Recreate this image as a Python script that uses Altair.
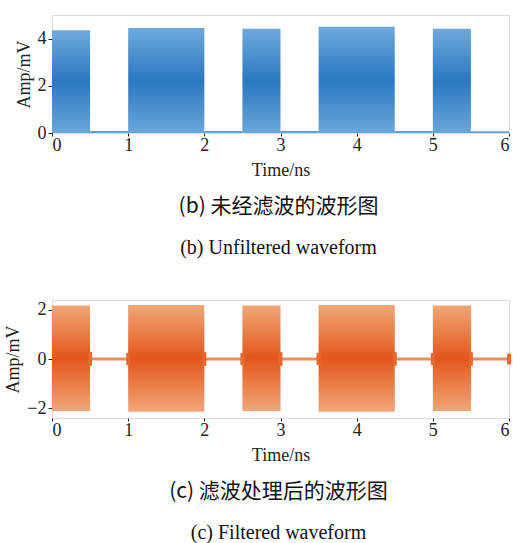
import altair as alt
import pandas as pd

# ---- data ----
burst_start = [0.0, 1.0, 2.5, 3.5, 5.0]
burst_end = [0.5, 2.0, 3.0, 4.5, 5.5]
raw_peak = [4.35, 4.45, 4.42, 4.5, 4.42]
raw_floor = [0.0, 0.0, 0.0, 0.0, 0.0]

idle_start = [0.5, 2.0, 3.0, 4.5, 5.5]
idle_end = [1.0, 2.5, 3.5, 5.0, 6.0]
raw_idle_peak = [0.08, 0.08, 0.08, 0.08, 0.07]

filt_peak = [2.18, 2.2, 2.18, 2.2, 2.18]
filt_trough = [-2.12, -2.15, -2.12, -2.15, -2.12]
filt_idle_amp = [0.06, 0.06, 0.06, 0.06, 0.06]

edge_time = [0.5, 1.0, 2.0, 2.5, 3.0, 3.5, 4.5, 5.0, 5.5, 6.0]
edge_ring = [0.28, 0.25, 0.28, 0.25, 0.28, 0.25, 0.28, 0.25, 0.28, 0.22]

x_ticks = [0, 1, 2, 3, 4, 5, 6]
raw_y_ticks = [0, 2, 4]
filt_y_ticks = [-2, 0, 2]

caption_b = ["(b) 未经滤波的波形图", "(b) Unfiltered waveform"]
caption_c = ["(c) 滤波处理后的波形图", "(c) Filtered waveform"]

SERIF = "Liberation Serif"
CJK = "Noto Sans CJK SC"
W, H = 457, 118
FS = 18

blue_grad = alt.LinearGradient(
    gradient="linear", x1=0, x2=0, y1=0, y2=1,
    stops=[alt.GradientStop(color="#6ea9dc", offset=0),
           alt.GradientStop(color="#2b78c1", offset=0.5),
           alt.GradientStop(color="#6aa6da", offset=1)])
orange_grad = alt.LinearGradient(
    gradient="linear", x1=0, x2=0, y1=0, y2=1,
    stops=[alt.GradientStop(color="#f2a677", offset=0),
           alt.GradientStop(color="#e2571c", offset=0.5),
           alt.GradientStop(color="#f2a677", offset=1)])


def x_enc(field):
    return alt.X(field, type="quantitative",
                 scale=alt.Scale(domain=[0, 6], nice=False),
                 axis=alt.Axis(values=x_ticks, title="Time/ns", format="d",
                               grid=False, domain=False, tickSize=3,
                               tickColor="#222", labelFont=SERIF, labelFontSize=FS,
                               labelColor="#222", titleFont=SERIF, titleFontSize=FS,
                               titleFontWeight="normal", titleColor="#222",
                               labelPadding=0, titlePadding=7))


def y_enc(field, domain, ticks):
    return alt.Y(field, type="quantitative",
                 scale=alt.Scale(domain=domain, nice=False),
                 axis=alt.Axis(values=ticks, title="Amp/mV", format="d",
                               grid=False, domain=False, tickSize=4,
                               tickColor="#222", labelFont=SERIF, labelFontSize=FS,
                               labelColor="#222", titleFont=SERIF, titleFontSize=FS,
                               titleFontWeight="normal", titleColor="#222",
                               labelPadding=2, titlePadding=4))


def captions(lines):
    cn = alt.Chart(pd.DataFrame({"t": [lines[0]]})).mark_text(
        font=CJK, fontSize=21, color="#111", baseline="middle", align="center"
    ).encode(text="t:N", x=alt.value(W / 2 - 2), y=alt.value(H + 74))
    en = alt.Chart(pd.DataFrame({"t": [lines[1]]})).mark_text(
        font=SERIF, fontSize=20, color="#111", baseline="middle", align="center"
    ).encode(text="t:N", x=alt.value(W / 2 - 2), y=alt.value(H + 115))
    return cn + en


# ---- top panel: unfiltered ----
raw_bursts = pd.DataFrame({"t0": burst_start, "t1": burst_end,
                           "lo": raw_floor, "hi": raw_peak})
raw_idle = pd.DataFrame({"t0": idle_start, "t1": idle_end,
                         "lo": [0.0] * len(idle_start), "hi": raw_idle_peak})

top_bursts = alt.Chart(raw_bursts).mark_rect(color=blue_grad).encode(
    x=x_enc("t0"), x2="t1",
    y=y_enc("lo", [0, 5], raw_y_ticks), y2="hi")
top_idle = alt.Chart(raw_idle).mark_rect(color="#3f86c8", opacity=0.8).encode(
    x="t0:Q", x2="t1", y="lo:Q", y2="hi")
top = alt.layer(top_bursts, top_idle, captions(caption_b)).properties(width=W, height=H)

# ---- bottom panel: filtered ----
f_bursts = pd.DataFrame({"t0": burst_start, "t1": burst_end,
                         "lo": filt_trough, "hi": filt_peak})
f_idle = pd.DataFrame({"t0": idle_start, "t1": idle_end,
                       "lo": [-a for a in filt_idle_amp], "hi": filt_idle_amp})
f_edges = pd.DataFrame({"t": edge_time, "lo": [-a for a in edge_ring], "hi": edge_ring})

bot_bursts = alt.Chart(f_bursts).mark_rect(color=orange_grad).encode(
    x=x_enc("t0"), x2="t1",
    y=y_enc("lo", [-2.4, 2.4], filt_y_ticks), y2="hi")
bot_idle = alt.Chart(f_idle).mark_rect(color="#ec7a3c", opacity=0.85).encode(
    x="t0:Q", x2="t1", y="lo:Q", y2="hi")
bot_edges = alt.Chart(f_edges).mark_rule(color="#e8692c", strokeWidth=4).encode(
    x="t:Q", y="lo:Q", y2="hi")
bottom = alt.layer(bot_bursts, bot_idle, bot_edges, captions(caption_c)).properties(width=W, height=H)

chart = alt.vconcat(top, bottom, spacing=40).resolve_scale(
    x="independent", y="independent"
).configure_view(stroke="#333", strokeWidth=1.2).properties(
    padding={"left": 4, "top": 14, "right": 4, "bottom": 0}
).configure(background="white")

chart.save("out.html", embed_options={"renderer": "svg", "actions": False})
